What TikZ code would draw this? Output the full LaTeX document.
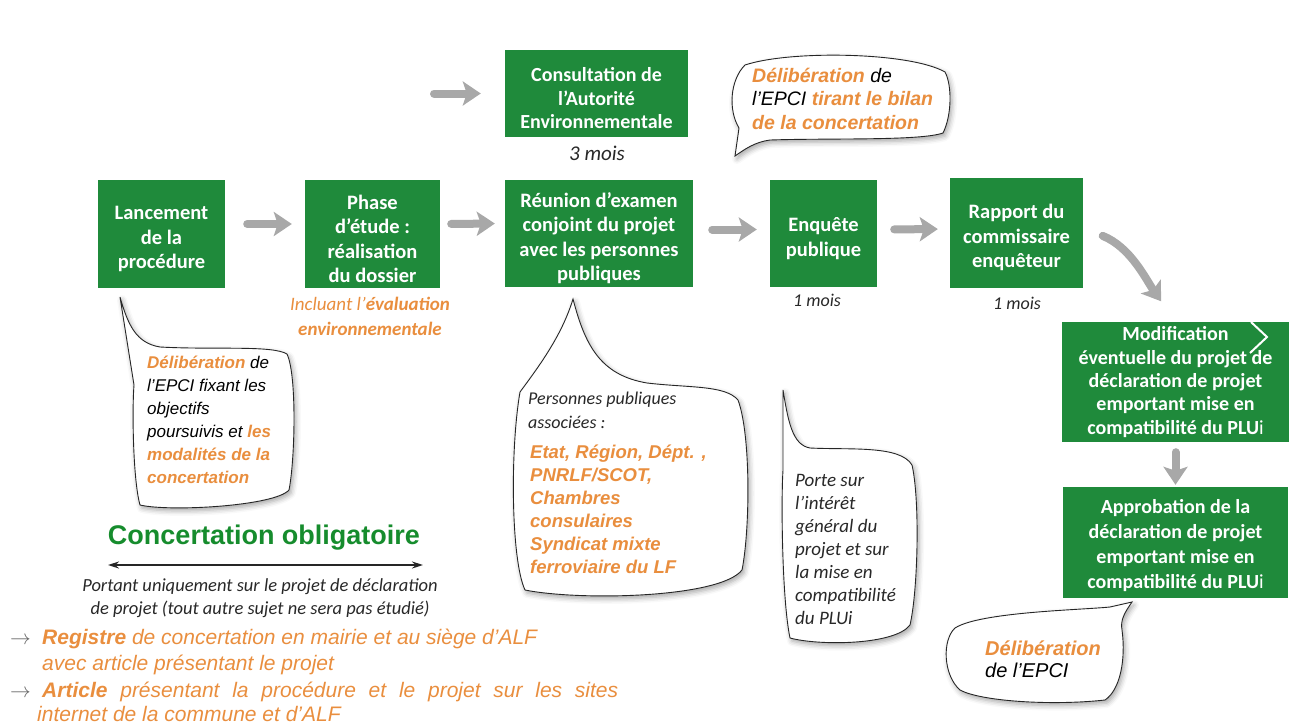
\documentclass[tikz,border=0pt]{standalone}
\usepackage{fontspec}
\setmainfont{Liberation Sans}
\newfontfamily\calib{Carlito}
\newfontfamily\arial{Liberation Sans}
\usetikzlibrary{arrows.meta,shadows.blur}

\definecolor{boxgreen}{RGB}{31,138,59}
\definecolor{orng}{RGB}{233,142,62}
\definecolor{arrgray}{RGB}{168,168,168}
\definecolor{titlegreen}{RGB}{22,140,45}
\definecolor{txtgray}{RGB}{40,40,40}

\newcommand{\org}[1]{\textcolor{orng}{\bfseries #1}}
% taller first line: lowers a box text block a little
\newcommand{\tp}[1][24pt]{\rule{0pt}{#1}}

\begin{document}
\begin{tikzpicture}[x=1pt,y=-1pt,
  box/.style={fill=boxgreen, text=white, align=center, inner sep=0pt,
    font=\calib\bfseries\fontsize{20.5}{24.5}\selectfont},
  flow/.style={draw=arrgray, line width=8pt, line cap=round,
    -{Stealth[length=18pt,width=24pt,inset=4pt]}},
  bubble/.style={draw=black!85, line width=0.9pt, fill=white,
    blur shadow={shadow xshift=2pt, shadow yshift=-3pt,
      shadow blur radius=5pt, shadow opacity=35}},
  bubtxt/.style={anchor=base west, inner sep=0pt, text=black,
    font=\arial\itshape\fontsize{#1}{23}\selectfont},
  note/.style={inner sep=0pt, text=txtgray, align=center,
    font=\calib\itshape\fontsize{#1}{23}\selectfont},
  foot/.style={anchor=base west, inner sep=0pt, text=orng,
    font=\arial\itshape\fontsize{21}{26}\selectfont}
]
\useasboundingbox (0,0) rectangle (1289,726);

% ---- process boxes ----
\node[box, minimum width=127pt, minimum height=108pt] (lanc) at (161.5,234) {\tp Lancement\\de la\\procédure};
\node[box, minimum width=135pt, minimum height=108pt] (phase) at (372.5,234) {\tp Phase\\d’étude :\\réalisation\\du dossier};
\node[box, minimum width=188pt, minimum height=107pt] (reun) at (599,233.5) {\tp Réunion d’examen\\conjoint du projet\\avec les personnes\\publiques};
\node[box, minimum width=107pt, minimum height=107pt] (enq) at (823.5,233.5) {\tp Enquête\\publique};
\node[box, minimum width=133pt, minimum height=110pt] (rap) at (1016.5,233) {\tp Rapport du\\commissaire\\enquêteur};
\node[box, minimum width=183pt, minimum height=87pt,
  font=\calib\bfseries\fontsize{20}{23.5}\selectfont] (cons) at (596.5,93.5) {\tp Consultation de\\l’Autorité\\Environnementale};
\node[box, minimum width=227pt, minimum height=120pt,
  font=\calib\bfseries\fontsize{20}{23.3}\selectfont] (modif) at (1175.5,382) {Modification\\éventuelle du projet de\\déclaration de projet\\emportant mise en\\compatibilité du PLU{\mdseries i}};
\node[box, minimum width=225pt, minimum height=111pt,
  font=\calib\bfseries\fontsize{20}{25}\selectfont] (appr) at (1175.5,542.5) {\tp[20pt]Approbation de la\\déclaration de projet\\emportant mise en\\compatibilité du PLU{\mdseries i}};
\draw[white, line width=2pt] (1251,322) -- (1267,337) -- (1250,353);

% ---- flow arrows ----
\coordinate (csrc) at (434,93.5);
\draw[flow, shorten >=24pt] (csrc) -- (cons.west);
\draw[flow, shorten <=22pt, shorten >=13pt] ([yshift=10pt]lanc.east) -- ([yshift=10pt]phase.west);
\draw[flow, shorten <=11pt, shorten >=10pt] ([yshift=10pt]phase.east) -- ([yshift=10pt]reun.west);
\draw[flow, shorten <=19pt, shorten >=13pt] ([yshift=4pt]reun.east) -- ([yshift=4pt]enq.west);
\draw[flow, shorten <=17pt, shorten >=12pt] ([yshift=4pt]enq.east) -- ([yshift=4pt]rap.west);
\draw[flow, shorten <=21pt, shorten >=25pt] ([yshift=5pt]rap.east) to[out=-22, in=125] (modif.north);
\draw[flow, shorten <=10pt, shorten >=2pt] (modif.south) -- (appr.north);

% ---- durations and notes ----
\node[note=21] (d3) at (597,153) {3 mois};
\node[note=18] (d1a) at (817,300) {1 mois};
\node[note=18] (d1b) at (1017,303) {1 mois};
\node[note=19, text=orng, font=\calib\itshape\fontsize{19}{25}\selectfont] (incl) at (370,316)
  {Incluant l’\textbf{évaluation}\\\textbf{environnementale}};

% ---- speech bubbles ----
% launch deliberation
\draw[bubble] (120,297) .. controls (128,325) and (136,343) .. (160,347)
  .. controls (215,350) and (272,345) .. (287,354)
  .. controls (297,375) and (295,460) .. (289,490)
  .. controls (275,506) and (170,512) .. (140,505)
  .. controls (133,480) and (132,410) .. (134,385) -- cycle;
\node[bubtxt=17] (b1) at (147,368) {\begin{tabular}[t]{@{}l@{}}
  \org{Délibération} de\\ l’EPCI fixant les\\ objectifs\\
  poursuivis et \org{les}\\ \org{modalités de la}\\ \org{concertation}\end{tabular}};

% closing of the concertation
\draw[bubble] (735,156) .. controls (745,149) and (755,142) .. (770,140)
  .. controls (830,138) and (920,141) .. (943,133)
  .. controls (952,115) and (952,85) .. (945,72)
  .. controls (910,52) and (790,50) .. (745,65)
  .. controls (730,80) and (728,110) .. (739,128) -- cycle;
\node[bubtxt=19.5, font=\arial\itshape\fontsize{19.5}{23.5}\selectfont] (b2) at (752,82) {\begin{tabular}[t]{@{}l@{}}
  \org{Délibération} de\\ l’EPCI \org{tirant le bilan}\\ \org{de la concertation}\end{tabular}};

% associated public bodies
\draw[bubble] (573,299) .. controls (585,345) and (600,375) .. (647,383)
  .. controls (690,388) and (725,385) .. (738,400)
  .. controls (751,435) and (750,530) .. (742,570)
  .. controls (720,598) and (580,601) .. (525,590)
  .. controls (511,560) and (510,450) .. (520,392)
  .. controls (540,365) and (562,335) .. (573,299) -- cycle;
\node[bubtxt=18, text=txtgray, font=\calib\itshape\fontsize{18}{24}\selectfont] (b3a) at (528,404) {\begin{tabular}[t]{@{}l@{}}
  Personnes publiques\\ associées :\end{tabular}};
\node[bubtxt=18, text=orng, font=\arial\itshape\bfseries\fontsize{18.5}{23}\selectfont] (b3b) at (530,458.5) {\begin{tabular}[t]{@{}l@{}}
  Etat, Région, Dépt. ,\\ PNRLF/SCOT,\\ Chambres\\ consulaires\\
  Syndicat mixte\\ ferroviaire du LF\end{tabular}};

% public inquiry scope
\draw[bubble] (783,390) .. controls (788,420) and (792,445) .. (810,448)
  .. controls (850,450) and (900,445) .. (912,465)
  .. controls (920,500) and (918,590) .. (910,625)
  .. controls (895,645) and (820,646) .. (790,638)
  .. controls (782,600) and (781,500) .. (783,470) -- cycle;
\node[bubtxt=19, text=txtgray, font=\calib\itshape\fontsize{19}{23}\selectfont] (b4) at (795,486) {\begin{tabular}[t]{@{}l@{}}
  Porte sur\\ l’intérêt\\ général du\\ projet et sur\\ la mise en\\ compatibilité\\ du PLUi\end{tabular}};

% approval deliberation
\draw[bubble] (1132,602) .. controls (1125,612) and (1120,620) .. (1122,630)
  .. controls (1126,660) and (1120,690) .. (1105,700)
  .. controls (1050,706) and (980,701) .. (960,690)
  .. controls (943,675) and (942,640) .. (955,628)
  .. controls (980,612) and (1080,610) .. (1110,607) -- cycle;
\node[bubtxt=20, font=\arial\itshape\fontsize{20}{22}\selectfont] (b5) at (985,655) {\begin{tabular}[t]{@{}l@{}}
  \org{Délibération}\\ de l’EPCI\end{tabular}};

% ---- compulsory consultation ----
\node[inner sep=0pt, text=titlegreen, font=\arial\bfseries\fontsize{27}{30}\selectfont] (conc) at (264,538) {Concertation obligatoire};
\coordinate (dal) at (108,565);
\coordinate (dar) at (423,565);
\draw[black!85, line width=1.6pt, {Stealth[length=11pt,width=7pt]}-{Stealth[length=11pt,width=7pt]}] (dal) -- (dar);
\node[note=18.5] (port) at (260,598) {Portant uniquement sur le projet de déclaration\\de projet (tout autre sujet ne sera pas étudié)};

\node[foot] (f1) at (10,644) {\makebox[32pt][l]{\textcolor{black!60}{$\rightarrow$}}\textbf{Registre} de concertation en mairie et au siège d’ALF};
\node[foot] (f2) at (42,670) {avec article présentant le projet};
\node[foot] (f3) at (10,697) {\makebox[32pt][l]{\textcolor{black!60}{$\rightarrow$}}\hbox to 576pt{\textbf{Article}\hfill présentant\hfill la\hfill procédure\hfill et\hfill le\hfill projet\hfill sur\hfill les\hfill sites}};
\node[foot] (f4) at (37,721) {internet de la commune et d’ALF};
\end{tikzpicture}
\end{document}
